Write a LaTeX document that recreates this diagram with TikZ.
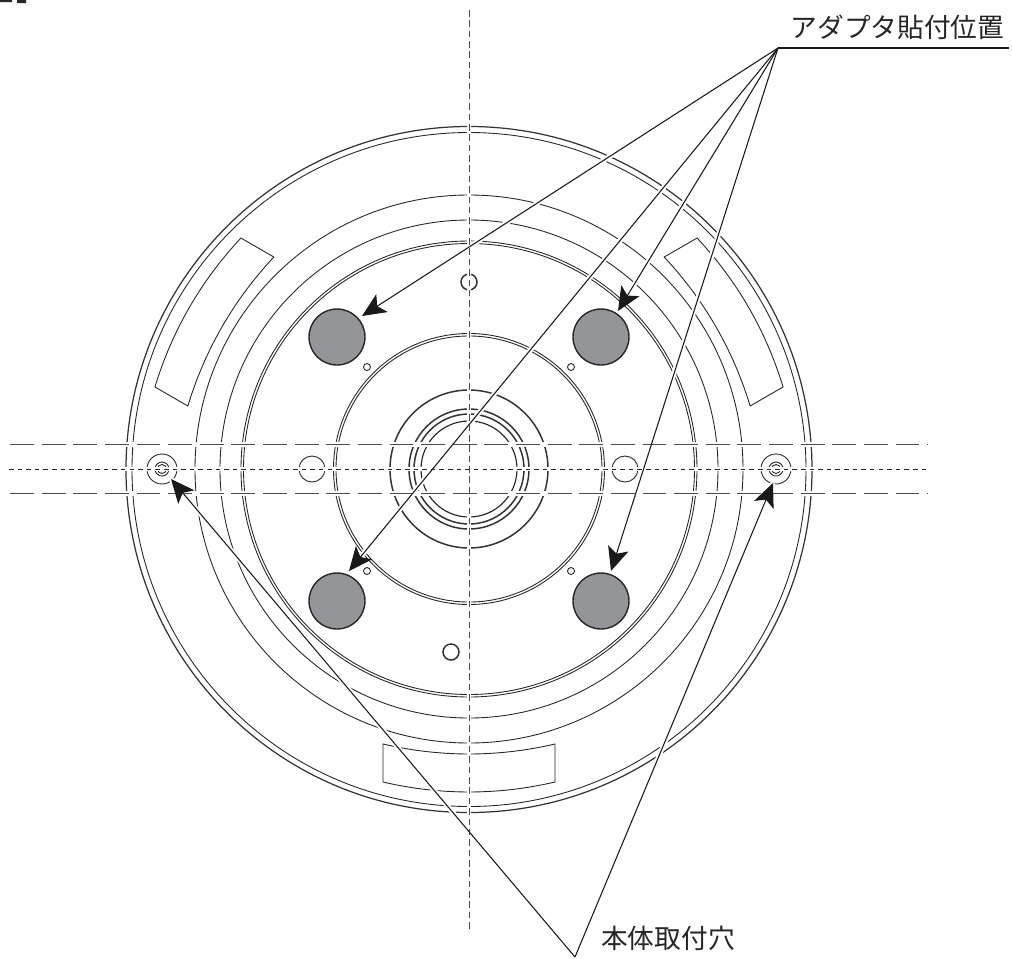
\documentclass[tikz,border=0pt]{standalone}
\usepackage{fontspec}
\setmainfont{Noto Sans CJK JP}
\usetikzlibrary{arrows.meta}
\definecolor{padgray}{RGB}{147,149,152}
\tikzset{
  outline/.style={draw=black!85,line width=.5pt},
  heavy/.style={draw=black!80,line width=.85pt},
  padfill/.style={draw=black!85,fill=padgray,line width=.8pt},
  gapband/.style={draw=white,line width=2.8pt},
  longdash/.style={draw=black!70,line width=.5pt,dash pattern=on 13.6pt off 4.4pt},
  shortdash/.style={draw=black!85,line width=.5pt,dash pattern=on 2.6pt off 2.3pt},
  vertdash/.style={draw=black!70,line width=.55pt,dash pattern=on 3.7pt off 2.2pt},
  leader/.style={draw=black!90,line width=.6pt},
  pointer/.style={leader,-{Stealth[length=13.5pt,width=12pt,inset=3.2pt]}},
  caption/.style={font=\fontsize{15.2pt}{15.2pt}\selectfont,inner sep=0pt,text=black!85}
}
\begin{document}
\begin{tikzpicture}[x=0.02cm,y=0.02cm,yscale=-1]
\useasboundingbox (0,0) rectangle (1012,958);
% clipped scrap in the corner
\fill[black!85] (0,0) rectangle (12,2) (17,0) rectangle (26,3);
% body rings
\draw[heavy,line width=.7pt] (469,469.5) circle[radius=343];
\draw[outline] (469,469.5) circle[radius=337];
\draw[outline] (469,469) circle[radius=274];
\draw[outline] (469,469) circle[radius=249];
\draw[outline] (469,469) circle[radius=228];
\draw[outline] (469,469) circle[radius=225.5];
\draw[outline] (469,469) circle[radius=135.5];
\draw[outline] (469,469) circle[radius=133];
\draw[heavy] (469,469) circle[radius=79];
\draw[heavy] (469,469) circle[radius=60];
\draw[heavy] (469,469) circle[radius=55];
\draw[outline,line width=.65pt] (469,469) circle[radius=48];
% label strips
\draw[outline,shift={(469,469)}] (-86,275) .. controls (-29,288.3) and (29,288.3) .. (86,275)--(86,313) .. controls (29,326.3) and (-29,326.3) .. (-86,313)--cycle;
\draw[outline,shift={(469,469)},rotate=120] (-86,275) .. controls (-29,288.3) and (29,288.3) .. (86,275)--(86,313) .. controls (29,326.3) and (-29,326.3) .. (-86,313)--cycle;
\draw[outline,shift={(469,469)},rotate=-120] (-86,275) .. controls (-29,288.3) and (29,288.3) .. (86,275)--(86,313) .. controls (29,326.3) and (-29,326.3) .. (-86,313)--cycle;
% holes
\draw[heavy] (469,282) circle[radius=8];
\draw[heavy] (451,652) circle[radius=8];
\draw[outline] (312,469) circle[radius=13];
\draw[outline] (625,469) circle[radius=13];
\draw[outline] (367,367) circle[radius=3.5];
\draw[outline] (571,367) circle[radius=3.5];
\draw[outline] (367,571) circle[radius=3.5];
\draw[outline] (571,571) circle[radius=3.5];
\draw[outline] (162,469) circle[radius=15];
\draw[outline] (162,469) circle[radius=7];
\draw[outline] (162,469) circle[radius=4.5];
\draw[outline] (776,469) circle[radius=15];
\draw[outline] (776,469) circle[radius=7];
\draw[outline] (776,469) circle[radius=4.5];
% adapter pads
\draw[padfill] (337,337) circle[radius=28];
\draw[padfill] (601,337) circle[radius=28];
\draw[padfill] (337,601) circle[radius=28];
\draw[padfill] (601,601) circle[radius=28];
% leader ends
\coordinate (adapterapex) at (778,48);
\coordinate (adapterend) at (1009,48);
\coordinate (padnw) at (362,316);
\coordinate (padne) at (618,311);
\coordinate (padsw) at (349,571);
\coordinate (padse) at (611,571);
\coordinate (holeapex) at (575,957);
\coordinate (holew) at (171,479);
\coordinate (holee) at (773,483);
% centre line ends
\coordinate (vtop) at (469,10);
\coordinate (vbot) at (469,930);
\coordinate (htopl) at (10,444.5);
\coordinate (htopr) at (928,444.5);
\coordinate (hmidl) at (9,469);
\coordinate (hmidr) at (928,469);
\coordinate (hbotl) at (10,493.5);
\coordinate (hbotr) at (928,493.5);
% white gaps where lines cross the drawing
\draw[gapband] (vtop)--(vbot);
\draw[gapband] (htopl)--(htopr);
\draw[gapband] (hmidl)--(hmidr);
\draw[gapband] (hbotl)--(hbotr);
\draw[gapband] (adapterapex)--(padnw);
\draw[gapband] (adapterapex)--(padne);
\draw[gapband] (adapterapex)--(padsw);
\draw[gapband] (adapterapex)--(padse);
\draw[gapband] (holeapex)--(holew);
\draw[gapband] (holeapex)--(holee);
% centre lines
\draw[vertdash] (vtop)--(vbot);
\draw[longdash] (htopl)--(htopr);
\draw[shortdash] (hmidl)--(hmidr);
\draw[longdash] (hbotl)--(hbotr);
% leaders
\draw[leader] (adapterapex)--(adapterend);
\draw[pointer] (adapterapex)--(padnw);
\draw[pointer] (adapterapex)--(padne);
\draw[pointer] (adapterapex)--(padsw);
\draw[pointer] (adapterapex)--(padse);
\draw[pointer] (holeapex)--(holew);
\draw[pointer] (holeapex)--(holee);
\node[caption] (adapterlabel) at (897.5,27) {アダプタ貼付位置};
\node[caption] (holelabel) at (668,938) {本体取付穴};
\end{tikzpicture}
\end{document}
